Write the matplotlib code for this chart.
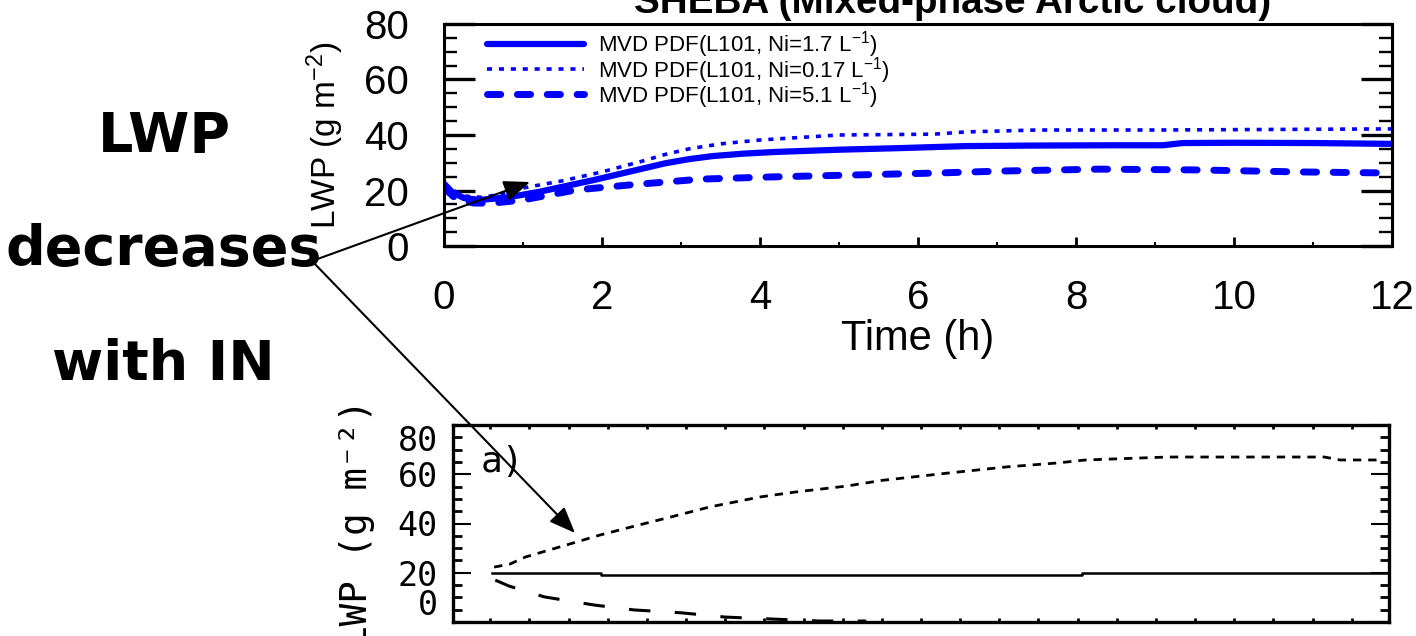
import matplotlib
matplotlib.use("Agg")
import matplotlib.pyplot as plt
from matplotlib.ticker import MultipleLocator
from matplotlib.patches import FancyArrowPatch

plt.rcParams["font.family"] = ["Liberation Sans", "DejaVu Sans"]
plt.rcParams["mathtext.fontset"] = "custom"
plt.rcParams["mathtext.rm"] = "Liberation Sans"
plt.rcParams["mathtext.it"] = "Liberation Sans:italic"
plt.rcParams["mathtext.bf"] = "Liberation Sans:bold"

# --- top panel: SHEBA LWP for three ice number concentrations ---
t_ni17 = [0, 0.1, 0.25, 0.45, 0.8, 1.2, 1.9, 2.5, 2.8, 3.1, 3.4, 3.8, 4.2,
          5.0, 5.8, 6.6, 7.5, 8.5, 9.1, 9.35, 10, 11, 12]
lwp_ni17 = [22.5, 19.5, 17.3, 16.6, 17.5, 19.5, 23.8, 27.8, 29.8, 31.3, 32.4,
            33.3, 33.9, 34.7, 35.3, 36.0, 36.2, 36.3, 36.3, 37.1, 37.2, 37.1,
            36.8]

t_ni017 = [0, 0.25, 0.5, 0.75, 1.0, 1.5, 2.0, 2.5, 2.8, 3.1, 3.5, 4.0, 5.0,
           6.2, 6.6, 7.5, 9, 10.5, 12]
lwp_ni017 = [22, 18, 17.5, 19, 20.9, 23.5, 26.7, 30.5, 33, 35, 36.8, 38.2,
             40, 40.3, 41.1, 41.8, 41.8, 42, 42.2]

t_ni51 = [0, 0.15, 0.37, 0.6, 1.0, 1.67, 2.35, 3.25, 4.16, 5.2, 6.24, 7.04,
          8.3, 9.57, 10.8, 12]
lwp_ni51 = [21, 17, 15.5, 15.4, 16.6, 20.2, 22, 24.1, 24.9, 25.6, 26.3, 27,
            27.7, 27.4, 26.7, 26.3]

labels = ["MVD PDF(L101, Ni=1.7 L$^{-1}$)",
          "MVD PDF(L101, Ni=0.17 L$^{-1}$)",
          "MVD PDF(L101, Ni=5.1 L$^{-1}$)"]

# --- bottom panel: older model run ---
x_low_in = [0.1, 0.5, 0.9, 2.1, 2.8, 3.7, 4.6, 5.6, 6.9, 7.8, 9.1, 10.0,
            11.7, 13.2, 14.5, 15.2, 17.3, 21.3, 21.7, 22.7]
lwp_low_in = [22.3, 23.5, 26.4, 32, 35.3, 39, 42.6, 46.7, 50.8, 52.8, 55.2,
              57.5, 60.5, 63, 64.6, 65.8, 67, 67, 65.8, 65.8]

x_mid_in = [0.05, 2.83, 2.83, 15.1, 15.1, 22.95]
lwp_mid_in = [20.0, 20.0, 19.1, 19.1, 19.9, 19.9]

x_high_in = [0.13, 0.48, 1.38, 2.65, 3.67, 4.9, 6.0, 7.2, 8.4, 9.6]
lwp_high_in = [17, 14.6, 10.2, 6.9, 4.9, 3.7, 2, 1.2, 0.4, 0.4]

low_yticks = [0, 20, 40, 60, 80]

W, H = 1416, 636
fig = plt.figure(figsize=(W / 100, H / 100), dpi=100)


def px(x, y):
    # image pixel -> figure fraction
    return x / W, 1 - y / H


# top axes
ax = fig.add_axes([444 / W, 1 - 246 / H, 948 / W, 222 / H])
blue = "#0000ff"
ax.plot(t_ni17, lwp_ni17, color=blue, lw=4.5, solid_capstyle="round",
        label=labels[0])
ax.plot(t_ni017, lwp_ni017, color=blue, lw=2.6, dashes=(1.4, 1.9),
        dash_capstyle="butt", label=labels[1])
ax.plot(t_ni51, lwp_ni51, color=blue, lw=5, dashes=(1.9, 2.4),
        dash_capstyle="round", label=labels[2])

ax.set_xlim(0, 12)
ax.set_ylim(0, 80)
ax.xaxis.set_major_locator(MultipleLocator(2))
ax.xaxis.set_minor_locator(MultipleLocator(1))
ax.yaxis.set_major_locator(MultipleLocator(20))
ax.yaxis.set_minor_locator(MultipleLocator(5))
ax.tick_params(axis="x", which="major", direction="in", length=6.5, width=2,
               top=False, labelsize=29, pad=24)
ax.tick_params(axis="x", which="minor", direction="in", length=3, width=1.5,
               top=False)
ax.tick_params(axis="y", which="major", direction="in", length=22, width=2.4,
               left=True, right=True, labelsize=29, pad=25)
ax.tick_params(axis="y", which="minor", direction="in", length=9.5, width=1.7,
               left=True, right=True)
for s in ax.spines.values():
    s.set_linewidth(2.2)

ax.set_xlabel("Time (h)", fontsize=30)
ax.xaxis.set_label_coords(0.5, -0.33)
ax.set_ylabel("LWP (g m$^{-2}$)", fontsize=24)
ax.yaxis.set_label_coords(-0.103, 0.5)

ax.legend(loc="upper left", bbox_to_anchor=(0.045, 0.975), frameon=False,
          fontsize=16, handlelength=4.4, handletextpad=0.6, labelspacing=-0.26,
          borderpad=0, borderaxespad=0)

fig.text(*px(953, 13), "SHEBA (Mixed-phase Arctic cloud)", ha="center",
         va="baseline", fontsize=27.8, fontweight="bold")

# bottom axes
ax2 = fig.add_axes([453 / W, 1 - 622 / H, 936 / W, 197 / H])
ax2.plot(x_low_in, lwp_low_in, color="k", lw=2, dashes=(3, 2.5))
ax2.plot(x_mid_in, lwp_mid_in, color="k", lw=1.8)
ax2.plot(x_high_in, lwp_high_in, color="k", lw=2.2, dashes=(7, 8))
ax2.set_xlim(-0.95, 22.95)
ax2.set_ylim(0, 80)
ax2.xaxis.set_major_locator(MultipleLocator(1))
ax2.set_yticks(low_yticks)
ax2.yaxis.set_minor_locator(MultipleLocator(5))
ax2.tick_params(axis="x", which="major", direction="in", length=3, width=2,
                top=True, labelbottom=False)
ax2.tick_params(axis="y", which="major", direction="in", length=13, width=1.5,
                left=True, right=True, labelsize=24, pad=11)
ax2.tick_params(axis="y", which="minor", direction="in", length=6.5, width=2,
                left=True, right=True)
for s in ax2.spines.values():
    s.set_linewidth(2.4)
yt = ax2.yaxis.get_major_ticks(len(low_yticks))
for tk in yt:
    tk.label1.set_family("DejaVu Sans Mono")
yt[0].label1.set_va("bottom")
yt[-1].label1.set_va("top")

ax2.set_ylabel("LWP (g m\u207b\u00b2)", fontsize=27, family="DejaVu Sans Mono")
ax2.yaxis.set_label_coords(-0.083, 0.5)
ax2.text(0.029, 0.81, "a)", transform=ax2.transAxes, fontsize=26,
         family="DejaVu Sans Mono", va="center")

# left-hand annotation
note_font = dict(fontsize=40, fontweight="bold", family="DejaVu Sans",
                 ha="center", va="baseline")
fig.text(*px(164, 152), "LWP", **note_font)
fig.text(*px(164, 265), "decreases", **note_font)
fig.text(*px(163, 380), "with IN", **note_font)

for tip in [(530, 182), (575, 533)]:
    arrow = FancyArrowPatch(px(312, 261), px(*tip), transform=fig.transFigure,
                            arrowstyle="-|>,head_length=1.0,head_width=0.4",
                            mutation_scale=16, lw=1.5, color="k",
                            shrinkA=0, shrinkB=0)
    fig.add_artist(arrow)

fig.savefig("out.png", dpi=100)
